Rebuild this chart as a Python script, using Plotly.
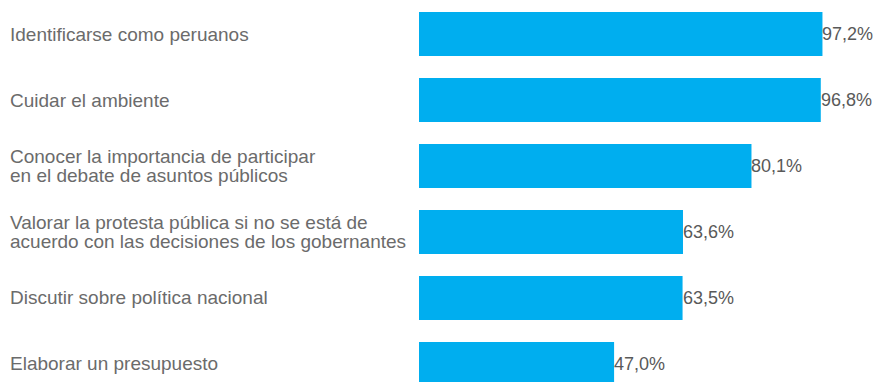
import plotly.graph_objects as go

# datos
categorias = [
    ["Identificarse como peruanos"],
    ["Cuidar el ambiente"],
    ["Conocer la importancia de participar", "en el debate de asuntos públicos"],
    ["Valorar la protesta pública si no se está de", "acuerdo con las decisiones de los gobernantes"],
    ["Discutir sobre política nacional"],
    ["Elaborar un presupuesto"],
]
valores = [97.2, 96.8, 80.1, 63.6, 63.5, 47.0]
etiquetas = ["97,2%", "96,8%", "80,1%", "63,6%", "63,5%", "47,0%"]

pos = list(range(len(valores)))
fuente = "Liberation Sans, Arial"

fig = go.Figure(go.Bar(
    x=valores, y=pos, orientation="h",
    marker=dict(color="#00AEEF", line=dict(width=0)),
    width=0.667,
    hoverinfo="skip",
))

ann = []
# etiquetas de categoría alineadas a la izquierda
for i, lineas in enumerate(categorias):
    n = len(lineas)
    for j, t in enumerate(lineas):
        ann.append(dict(
            xref="paper", yref="y", x=-(419 - 8) / 457, y=i,
            yshift=(n - 1) * 9.5 - j * 19,
            text=t, showarrow=False, xanchor="left", yanchor="middle",
            font=dict(family=fuente, size=19, color="#6b6b6b"),
        ))
# valores al final de cada barra
for i, (v, t) in enumerate(zip(valores, etiquetas)):
    ann.append(dict(
        xref="x", yref="y", x=v, y=i, xshift=-2,
        text=t, showarrow=False, xanchor="left", yanchor="middle",
        font=dict(family=fuente, size=18, color="#595959"),
    ))

fig.update_layout(
    width=876, height=382,
    margin=dict(l=419, r=0, t=1, b=0),
    plot_bgcolor="white", paper_bgcolor="white",
    showlegend=False,
    annotations=ann,
    xaxis=dict(range=[0, 110.1], visible=False, fixedrange=True),
    yaxis=dict(range=[5.273, -0.5], visible=False, fixedrange=True),
)

fig.write_html("out.html", config={"displayModeBar": False},
               post_script="document.body.style.margin='0';")
